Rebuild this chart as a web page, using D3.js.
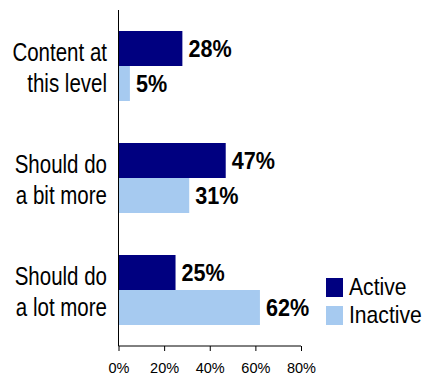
<!DOCTYPE html>
<html>
<head>
<meta charset="utf-8">
<script src="https://cdn.jsdelivr.net/npm/d3@7"></script>
<style>
  html, body { margin: 0; padding: 0; background: #fff; }
  svg { display: block; font-family: Arial, "Liberation Sans", sans-serif; }
</style>
</head>
<body>
<svg id="chart" width="423" height="378"></svg>
<script>
// Chart data
const categories = [["Content at", "this level"], ["Should do", "a bit more"], ["Should do", "a lot more"]];
const seriesNames = ["Active", "Inactive"];
const activeValues = [28, 47, 25];
const inactiveValues = [5, 31, 62];
const xTicks = [0, 20, 40, 60, 80];

const colors = { Active: "#000080", Inactive: "#a6caf0" };

const svg = d3.select("#chart");
const catKeys = categories.map(c => c.join(" "));

const x = d3.scaleLinear().domain([0, 80]).range([118.5, 301]);
const y = d3.scaleBand().domain(catKeys).range([10, 346]).paddingInner(0.375).paddingOuter(0.1875);
const ySub = d3.scaleBand().domain(seriesNames).range([0, y.bandwidth()]);

const rows = catKeys.map((k, i) => ({ key: k, lines: categories[i], Active: activeValues[i], Inactive: inactiveValues[i] }));

// Bars
const groups = svg.selectAll("g.cat").data(rows).join("g")
  .attr("class", "cat")
  .attr("transform", d => `translate(0,${y(d.key)})`);

groups.selectAll("rect").data(d => seriesNames.map(s => ({ s, v: d[s] }))).join("rect")
  .attr("x", x(0))
  .attr("y", d => ySub(d.s))
  .attr("width", d => x(d.v) - x(0))
  .attr("height", ySub.bandwidth())
  .attr("fill", d => colors[d.s]);

// Value labels
groups.selectAll("text.val").data(d => seriesNames.map(s => ({ s, v: d[s] }))).join("text")
  .attr("class", "val")
  .attr("transform", d => `translate(${x(d.v) + 6},${ySub(d.s) + ySub.bandwidth() / 2 + 8.5}) scale(0.9,1)`)
  .attr("font-size", 24)
  .attr("font-weight", "bold")
  .attr("fill", "#000")
  .text(d => d.v + "%");

// Category labels (two lines, right aligned)
groups.each(function (d) {
  const g = d3.select(this);
  const c = y.bandwidth() / 2;
  d.lines.forEach((line, j) => {
    g.append("text")
      .attr("transform", `translate(107,${c - 5.5 + j * 31}) scale(0.82,1)`)
      .attr("text-anchor", "end")
      .attr("font-size", 25)
      .attr("fill", "#000")
      .text(line);
  });
});

// Vertical category axis line
svg.append("line")
  .attr("x1", x(0)).attr("x2", x(0))
  .attr("y1", 10).attr("y2", 346)
  .attr("stroke", "#000").attr("stroke-width", 1);

// Horizontal value axis
const xAxis = d3.axisBottom(x).tickValues(xTicks).tickFormat(d => d + "%").tickSize(5).tickPadding(12);
const ax = svg.append("g").attr("transform", "translate(0,346)").call(xAxis);
ax.select(".domain").attr("d", `M${x(0)},0H${x(80)}`).attr("stroke", "#000");
ax.selectAll(".tick line").attr("stroke", "#000");
ax.selectAll(".tick text").attr("font-size", 14.5).attr("font-family", "Arial, 'Liberation Sans', sans-serif").attr("fill", "#000");

// Legend
const legend = svg.append("g").attr("transform", "translate(326,278)");
seriesNames.forEach((s, i) => {
  legend.append("rect")
    .attr("x", 0).attr("y", i * 28)
    .attr("width", 17).attr("height", 19)
    .attr("fill", colors[s]);
  legend.append("text")
    .attr("transform", `translate(23,${i * 28 + 17}) scale(0.88,1)`)
    .attr("font-size", 24)
    .attr("fill", "#000")
    .text(s);
});
</script>
</body>
</html>
